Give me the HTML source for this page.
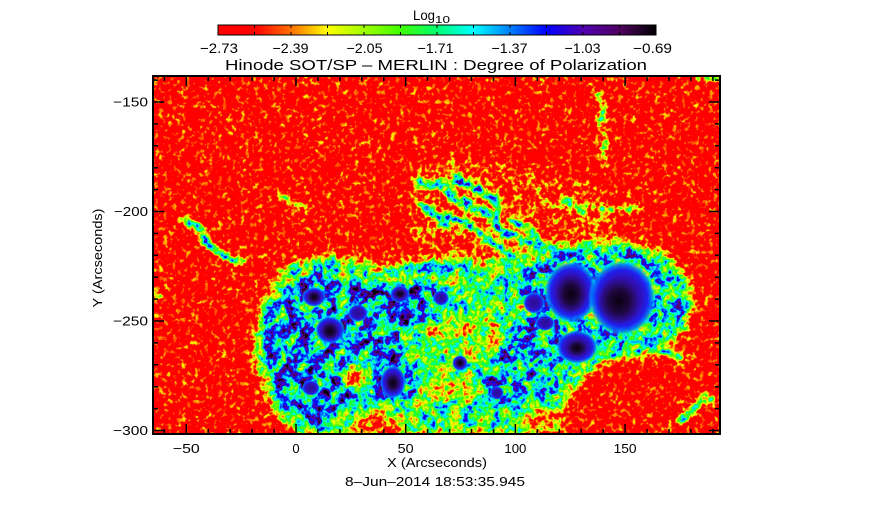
<!DOCTYPE html>
<html><head><meta charset="utf-8"><style>
html,body{margin:0;padding:0;background:#fff;}
svg{display:block;}
text{font-family:"Liberation Sans","DejaVu Sans",sans-serif;fill:#000;}
</style></head><body>
<svg xmlns="http://www.w3.org/2000/svg" width="873" height="512" viewBox="0 0 873 512">
<defs>
<linearGradient id="cbar" x1="0" y1="0" x2="1" y2="0">
<stop offset="0" stop-color="#ff0000"/>
<stop offset="0.0833" stop-color="#ff0000"/>
<stop offset="0.1667" stop-color="#ff7000"/>
<stop offset="0.25" stop-color="#ffff00"/>
<stop offset="0.3333" stop-color="#a0ff00"/>
<stop offset="0.4167" stop-color="#40ff00"/>
<stop offset="0.5" stop-color="#00ff70"/>
<stop offset="0.5833" stop-color="#00ffff"/>
<stop offset="0.6667" stop-color="#0080ff"/>
<stop offset="0.75" stop-color="#0000ff"/>
<stop offset="0.8333" stop-color="#5000b0"/>
<stop offset="0.9167" stop-color="#500060"/>
<stop offset="1" stop-color="#000000"/>
</linearGradient>
<filter id="cm" filterUnits="userSpaceOnUse" x="153" y="76" width="567" height="358" color-interpolation-filters="sRGB">
<feTurbulence type="fractalNoise" baseFrequency="0.22" numOctaves="2" seed="4" result="t1"/>
<feColorMatrix in="t1" type="matrix" values="2.6 0 0 0 -0.8 2.6 0 0 0 -0.8 2.6 0 0 0 -0.8 0 0 0 0 1" result="n1"/>
<feTurbulence type="fractalNoise" baseFrequency="0.08" numOctaves="2" seed="9" result="t2"/>
<feColorMatrix in="t2" type="matrix" values="2.4 0 0 0 -0.7 2.4 0 0 0 -0.7 2.4 0 0 0 -0.7 0 0 0 0 1" result="n2"/>
<feComposite in="SourceGraphic" in2="n2" operator="arithmetic" k1="0.6" k2="0.7" k3="0.1" k4="-0.05" result="s1"/>
<feComposite in="s1" in2="n1" operator="arithmetic" k1="0" k2="1" k3="0.3" k4="-0.15" result="s2"/>
<feComponentTransfer in="s2">
<feFuncR type="table" tableValues="1 1 1 1 .63 .25 0 0 0 0 .31 .31 0"/>
<feFuncG type="table" tableValues="0 0 .44 1 1 1 1 1 .5 0 0 0 0"/>
<feFuncB type="table" tableValues="0 0 0 0 0 0 .44 1 1 1 .69 .38 0"/>
</feComponentTransfer>
</filter>
<filter id="b4"><feGaussianBlur stdDeviation="4"/></filter>
<filter id="b2"><feGaussianBlur stdDeviation="2.2"/></filter>
<radialGradient id="pen">
<stop offset="0" stop-color="#2a0c90"/>
<stop offset="0.55" stop-color="#3010b8"/>
<stop offset="0.75" stop-color="#2020f0"/>
<stop offset="0.88" stop-color="#0070ff" stop-opacity="0.85"/>
<stop offset="1" stop-color="#00ffff" stop-opacity="0"/>
</radialGradient>
<radialGradient id="umb">
<stop offset="0" stop-color="#0a0010"/>
<stop offset="0.5" stop-color="#1e0840"/>
<stop offset="0.8" stop-color="#2a0c70" stop-opacity="0.6"/>
<stop offset="1" stop-color="#3010a0" stop-opacity="0"/>
</radialGradient>
</defs>

<!-- image field -->
<g filter="url(#cm)">
<rect x="153" y="76" width="567" height="358" fill="rgb(8,8,8)"/>
<g filter="url(#b4)">
<polygon fill="rgb(30,30,30)" points="410,170 470,160 540,175 600,185 620,230 600,255 530,262 450,262 410,240"/>
<polygon fill="rgb(118,118,118)" points="256,330 263,300 283,270 305,258 335,254 365,264 395,266 425,258 455,258 480,264 510,258 530,252 555,248 590,246 630,242 667,255 688,280 693,305 685,332 667,350 640,357 610,360 590,370 575,388 560,408 550,426 540,434 298,434 283,420 268,400 260,375 253,350"/>
<ellipse cx="608" cy="298" rx="80" ry="56" fill="rgb(140,140,140)"/>
<polygon fill="rgb(168,168,168)" points="270,310 285,285 310,275 345,280 380,282 420,280 445,285 450,305 430,320 400,330 405,360 420,375 415,395 380,400 345,405 330,425 300,425 282,405 272,380 267,350"/>
<polygon fill="rgb(155,155,155)" points="500,330 530,318 560,335 570,360 560,385 540,400 505,410 480,400 485,370"/>
<polygon fill="rgb(160,160,160)" points="515,272 545,262 555,285 540,300 520,295"/>
<ellipse cx="468" cy="335" rx="38" ry="24" fill="rgb(85,85,85)"/>
<ellipse cx="355" cy="378" rx="16" ry="12" fill="rgb(30,30,30)"/>
<ellipse cx="445" cy="390" rx="25" ry="12" fill="rgb(55,55,55)"/>
<ellipse cx="545" cy="422" rx="25" ry="14" fill="rgb(45,45,45)"/>
<ellipse cx="378" cy="424" rx="25" ry="14" fill="rgb(30,30,30)"/>
</g>
<g filter="url(#b2)" fill="none" stroke-linecap="round" stroke-linejoin="round">
<path d="M420,182 L440,185 L455,200 L470,205 L490,215 L500,230 L520,240 L545,250 L570,258" stroke="rgb(155,155,155)" stroke-width="9"/>
<path d="M445,215 L470,225 L490,240 L510,255" stroke="rgb(145,145,145)" stroke-width="7"/>
<path d="M455,180 L480,190 L500,205 L495,215" stroke="rgb(150,150,150)" stroke-width="8"/>
<path d="M513,222 L530,230 L547,250" stroke="rgb(145,145,145)" stroke-width="6"/>
<path d="M420,205 L435,215 L448,228" stroke="rgb(140,140,140)" stroke-width="7"/>
<path d="M563,200 L575,205 L583,212" stroke="rgb(130,130,130)" stroke-width="6"/>
<path d="M452,158 L458,172 L450,188" stroke="rgb(120,120,120)" stroke-width="5"/>
<path d="M183,220 L198,226 L205,240 L215,250 L228,258 L242,262" stroke="rgb(140,140,140)" stroke-width="7"/>
<path d="M283,197 L295,203 L307,210" stroke="rgb(105,105,105)" stroke-width="5"/>
<path d="M598,96 L604,110 L600,125 L606,140 L602,158" stroke="rgb(115,115,115)" stroke-width="5"/>
<path d="M585,205 L610,210 L640,208" stroke="rgb(95,95,95)" stroke-width="5"/>
<path d="M680,422 L695,408 L705,398 L712,400" stroke="rgb(145,145,145)" stroke-width="7"/>
<path d="M660,350 L672,353 L680,358" stroke="rgb(135,135,135)" stroke-width="6"/>
<path d="M700,78 L719,78" stroke="rgb(135,135,135)" stroke-width="5"/>
<path d="M155,292 L160,296" stroke="rgb(115,115,115)" stroke-width="5"/>
</g>
</g>

<!-- sunspots -->
<g>
<ellipse cx="571" cy="292" rx="27" ry="31" fill="url(#pen)"/>
<ellipse cx="622" cy="298" rx="34" ry="38" fill="url(#pen)"/>
<ellipse cx="577" cy="347" rx="21" ry="17" fill="url(#pen)"/>
<ellipse cx="534" cy="303" rx="11" ry="11" fill="url(#pen)"/>
<ellipse cx="545" cy="323" rx="10" ry="8" fill="url(#pen)"/>
<ellipse cx="314" cy="297" rx="12" ry="10" fill="url(#pen)"/>
<ellipse cx="330" cy="330" rx="15" ry="14" fill="url(#pen)"/>
<ellipse cx="358" cy="313" rx="10" ry="9" fill="url(#pen)"/>
<ellipse cx="400" cy="294" rx="10" ry="9" fill="url(#pen)"/>
<ellipse cx="441" cy="298" rx="8" ry="8" fill="url(#pen)"/>
<ellipse cx="393" cy="382" rx="13" ry="17" fill="url(#pen)"/>
<ellipse cx="311" cy="388" rx="9" ry="8" fill="url(#pen)"/>
<ellipse cx="460" cy="363" rx="8" ry="8" fill="url(#pen)"/>
<ellipse cx="497" cy="393" rx="7" ry="7" fill="url(#pen)"/>
<ellipse cx="571" cy="294" rx="16" ry="20" fill="url(#umb)"/>
<ellipse cx="619" cy="301" rx="22" ry="24" fill="url(#umb)"/>
<ellipse cx="577" cy="348" rx="11" ry="9" fill="url(#umb)"/>
<ellipse cx="314" cy="297" rx="7" ry="6" fill="url(#umb)"/>
<ellipse cx="330" cy="331" rx="9" ry="9" fill="url(#umb)"/>
<ellipse cx="400" cy="294" rx="6" ry="5" fill="url(#umb)"/>
<ellipse cx="393" cy="383" rx="8" ry="10" fill="url(#umb)"/>
<ellipse cx="460" cy="363" rx="5" ry="5" fill="url(#umb)"/>
</g>

<!-- axes frame -->
<rect x="153" y="76" width="567" height="358" fill="none" stroke="#000" stroke-width="2"/>
<g stroke="#000" stroke-width="1.5">
<path d="M186.3,434v-10M296,434v-10M405.7,434v-10M515.4,434v-10M625.1,434v-10 M186.3,76v10M296,76v10M405.7,76v10M515.4,76v10M625.1,76v10"/>
<path d="M164.4,434v-5M208.2,434v-5M230.2,434v-5M252.1,434v-5M274.1,434v-5M317.9,434v-5M339.9,434v-5M361.8,434v-5M383.8,434v-5M427.6,434v-5M449.6,434v-5M471.5,434v-5M493.5,434v-5M537.3,434v-5M559.3,434v-5M581.2,434v-5M603.2,434v-5M647,434v-5M669,434v-5M690.9,434v-5M712.9,434v-5
M164.4,76v5M208.2,76v5M230.2,76v5M252.1,76v5M274.1,76v5M317.9,76v5M339.9,76v5M361.8,76v5M383.8,76v5M427.6,76v5M449.6,76v5M471.5,76v5M493.5,76v5M537.3,76v5M559.3,76v5M581.2,76v5M603.2,76v5M647,76v5M669,76v5M690.9,76v5M712.9,76v5"/>
<path d="M153,102h11M153,211.5h11M153,321h11M153,430.5h11 M720,102h-11M720,211.5h-11M720,321h-11M720,430.5h-11"/>
<path d="M153,80.1h5M153,123.9h5M153,145.8h5M153,167.7h5M153,189.6h5M153,233.4h5M153,255.3h5M153,277.2h5M153,299.1h5M153,342.9h5M153,364.8h5M153,386.7h5M153,408.6h5
M720,80.1h-5M720,123.9h-5M720,145.8h-5M720,167.7h-5M720,189.6h-5M720,233.4h-5M720,255.3h-5M720,277.2h-5M720,299.1h-5M720,342.9h-5M720,364.8h-5M720,386.7h-5M720,408.6h-5"/>
</g>

<!-- tick labels -->
<g font-size="13" text-anchor="middle">
<text x="186.3" y="453" textLength="27" lengthAdjust="spacingAndGlyphs">−50</text>
<text x="296" y="453">0</text>
<text x="405.7" y="453" textLength="16" lengthAdjust="spacingAndGlyphs">50</text>
<text x="515.4" y="453" textLength="22" lengthAdjust="spacingAndGlyphs">100</text>
<text x="625.1" y="453" textLength="23" lengthAdjust="spacingAndGlyphs">150</text>
</g>
<g font-size="13" text-anchor="end">
<text x="148" y="106.5" textLength="35" lengthAdjust="spacingAndGlyphs">−150</text>
<text x="148" y="216" textLength="34" lengthAdjust="spacingAndGlyphs">−200</text>
<text x="148" y="325.5" textLength="35" lengthAdjust="spacingAndGlyphs">−250</text>
<text x="148" y="435" textLength="35" lengthAdjust="spacingAndGlyphs">−300</text>
</g>

<!-- axis titles -->
<text x="387" y="467" font-size="13" textLength="100" lengthAdjust="spacingAndGlyphs">X (Arcseconds)</text>
<text x="345" y="486" font-size="13" textLength="180" lengthAdjust="spacingAndGlyphs">8–Jun–2014 18:53:35.945</text>
<text transform="translate(102,258) rotate(-90)" x="0" y="0" font-size="13" text-anchor="middle" textLength="99" lengthAdjust="spacingAndGlyphs">Y (Arcseconds)</text>

<!-- title -->
<text x="225" y="70" font-size="15" textLength="422" lengthAdjust="spacingAndGlyphs">Hinode SOT/SP – MERLIN : Degree of Polarization</text>

<!-- colorbar -->
<text x="413" y="20" font-size="14" textLength="22" lengthAdjust="spacingAndGlyphs">Log</text>
<text x="435" y="23" font-size="10" textLength="15" lengthAdjust="spacingAndGlyphs">10</text>
<rect x="218" y="25" width="438" height="10" fill="url(#cbar)" stroke="#000" stroke-width="1"/>
<g stroke="#000" stroke-width="1">
<path d="M254.5,25v3M291,25v3M327.5,25v3M364,25v3M400.5,25v3M437,25v3M473.5,25v3M510,25v3M546.5,25v3M583,25v3M619.5,25v3
M254.5,35v-3M291,35v-3M327.5,35v-3M364,35v-3M400.5,35v-3M437,35v-3M473.5,35v-3M510,35v-3M546.5,35v-3M583,35v-3M619.5,35v-3"/>
</g>
<g font-size="14" text-anchor="middle">
<text x="219" y="53" textLength="38" lengthAdjust="spacingAndGlyphs">−2.73</text>
<text x="290.5" y="53" textLength="36" lengthAdjust="spacingAndGlyphs">−2.39</text>
<text x="364.5" y="53" textLength="36" lengthAdjust="spacingAndGlyphs">−2.05</text>
<text x="435.5" y="53" textLength="36" lengthAdjust="spacingAndGlyphs">−1.71</text>
<text x="509.5" y="53" textLength="36" lengthAdjust="spacingAndGlyphs">−1.37</text>
<text x="582.5" y="53" textLength="36" lengthAdjust="spacingAndGlyphs">−1.03</text>
<text x="652.5" y="53" textLength="39" lengthAdjust="spacingAndGlyphs">−0.69</text>
</g>
</svg>
</body></html>
